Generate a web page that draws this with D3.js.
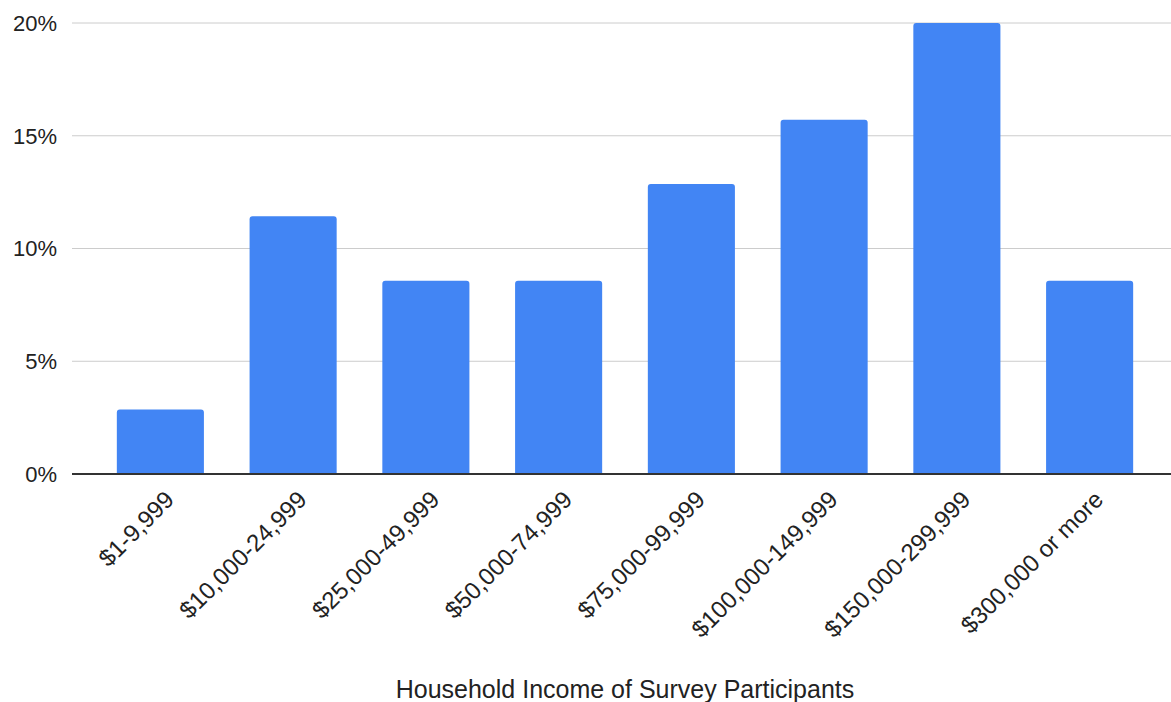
<!DOCTYPE html>
<html>
<head>
<meta charset="utf-8">
<script src="https://cdn.jsdelivr.net/npm/d3@7"></script>
<style>
  html, body { margin: 0; padding: 0; background: #fff; }
  svg { display: block; font-family: "Liberation Sans", Arial, sans-serif; }
</style>
</head>
<body>
<svg id="chart" width="1171" height="702"></svg>
<script>
// Share of survey participants by household income bracket (%)
const categories = ["$1-9,999", "$10,000-24,999", "$25,000-49,999", "$50,000-74,999",
                    "$75,000-99,999", "$100,000-149,999", "$150,000-299,999", "$300,000 or more"];
const shares = [2.86, 11.43, 8.57, 8.57, 12.86, 15.71, 20.0, 8.57];
const yTicks = [0, 5, 10, 15, 20];
const xTitle = "Household Income of Survey Participants";

const W = 1171, H = 702;
const gridLeft = 72, gridRight = 1171;
const plotTop = 23, plotBottom = 474;

const svg = d3.select("#chart");

const x = d3.scaleBand()
  .domain(categories)
  .range([94, 1156])
  .paddingInner(0.344)
  .paddingOuter(0.172);

const y = d3.scaleLinear().domain([0, 20]).range([plotBottom, plotTop]);

// horizontal gridlines
svg.append("g").selectAll("line")
  .data(yTicks.filter(d => d !== 0))
  .join("line")
  .attr("x1", gridLeft).attr("x2", gridRight)
  .attr("y1", d => y(d)).attr("y2", d => y(d))
  .attr("stroke", "#cccccc").attr("stroke-width", 1);

// y tick labels
svg.append("g").selectAll("text")
  .data(yTicks)
  .join("text")
  .attr("x", 57)
  .attr("y", d => y(d))
  .attr("dy", "0.36em")
  .attr("text-anchor", "end")
  .attr("font-size", 22)
  .attr("fill", "#222")
  .text(d => d + "%");

// bars with rounded top corners
const r = 3;
function barPath(d) {
  const x0 = x(d.cat), w = x.bandwidth();
  const y0 = y(d.v), y1 = y(0);
  return `M${x0},${y1}V${y0 + r}Q${x0},${y0} ${x0 + r},${y0}H${x0 + w - r}Q${x0 + w},${y0} ${x0 + w},${y0 + r}V${y1}Z`;
}
svg.append("g").selectAll("path")
  .data(categories.map((c, i) => ({ cat: c, v: shares[i] })))
  .join("path")
  .attr("d", barPath)
  .attr("fill", "#4285f4");

// baseline
svg.append("line")
  .attr("x1", gridLeft).attr("x2", gridRight)
  .attr("y1", y(0)).attr("y2", y(0))
  .attr("stroke", "#333").attr("stroke-width", 2);

// rotated category labels
svg.append("g").selectAll("text")
  .data(categories)
  .join("text")
  .attr("transform", d => `translate(${x(d) + x.bandwidth() / 2 + 9},${plotBottom + 21}) rotate(-45)`)
  .attr("text-anchor", "end")
  .attr("dy", "0.36em")
  .attr("font-size", 24)
  .attr("fill", "#222")
  .text(d => d);

// axis title
svg.append("text")
  .attr("x", 625)
  .attr("y", 698)
  .attr("text-anchor", "middle")
  .attr("font-size", 25)
  .attr("fill", "#222")
  .text(xTitle);
</script>
</body>
</html>
